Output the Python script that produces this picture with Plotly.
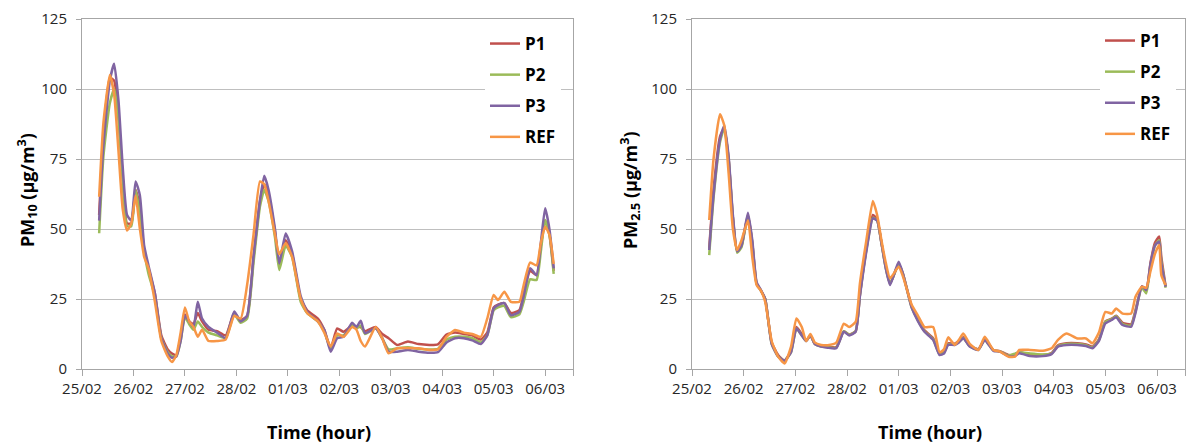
import plotly.graph_objects as go

# ---------------- data (hours since 25/02 00:00) ----------------
HOURS_PM10 = [8, 10, 13, 15, 17, 19, 21, 23, 25, 27, 29, 31, 34, 37, 40, 42, 44, 46, 48, 50,
              52, 54, 56, 59, 63, 67, 71, 74, 77, 80, 83, 85, 87, 90, 92, 95, 98, 102, 105, 110,
              113, 116, 119, 122, 126, 128, 130, 132, 137, 140, 143, 147, 152, 157, 162, 166, 170, 174, 178, 182,
              186, 189, 192, 194, 197, 200, 204, 206, 209, 212, 214, 216, 218, 220]

PM10_P1 = [55, 84, 104, 103, 90, 68, 52, 52, 64, 58, 42, 36, 27, 12, 7, 5.5, 5, 11, 19.5, 17,
           16, 20, 17, 14, 13.5, 12, 20, 17.5, 19, 40, 60, 66, 62, 49, 37, 46, 41, 25, 21, 18,
           14, 7.5, 14.5, 13.3, 15.5, 15, 15, 13.5, 15, 12.5, 11, 8.6, 9.8, 8.9, 8.6, 8.8, 12.3, 13, 12.5, 12,
           10.5, 13, 22, 23, 23.5, 20, 21, 27, 35, 33.5, 44, 53, 48, 35]
PM10_P2 = [48.5, 76, 95, 100, 90, 68, 51, 51, 64, 55, 42, 34, 26, 11, 6, 4.5, 4.5, 10, 18.5, 16,
           14, 17, 15, 13, 12, 11, 19.5, 16.5, 18, 38, 58, 64, 60, 47, 35.4, 44, 40, 24, 20, 17,
           13.5, 7, 12, 12, 15.5, 14.5, 15.5, 12.5, 14.5, 11, 7, 7.4, 7.8, 7.2, 7, 7.2, 10.5, 11.5, 11.5, 11,
           9.5, 12, 21, 22, 22.5, 18.5, 19.5, 24, 32, 31.8, 42, 53.2, 48, 34]
PM10_P3 = [53, 80, 103, 109, 96, 72, 55, 53, 67, 62, 44, 37, 27, 11, 5.5, 4, 4.5, 10, 19, 17,
           15, 24, 18, 15, 13, 11, 20.5, 17, 19, 40, 60, 69, 64, 50, 37.7, 48.4, 42, 26, 20.5, 17,
           14, 6.2, 11, 11.5, 16.5, 15, 17.2, 12.8, 14.5, 11, 6.2, 6.2, 6.8, 6.2, 5.8, 6, 9.5, 11, 11, 10.2,
           8.9, 12, 21.6, 22.8, 23.5, 19.2, 20.4, 26, 36, 33.5, 45, 57.4, 50, 35.9]
PM10_REF = [61.5, 88, 105, 98, 78, 57, 49.5, 52, 62, 50, 40, 36, 24, 10, 4.5, 2.5, 5, 13, 22, 17,
            15, 11.5, 14, 10, 10, 10.5, 19, 18, 30, 48, 67, 66, 60, 48, 41, 45, 40, 25, 20, 17,
            13, 8, 12.7, 11.5, 15, 14, 10, 8, 15, 11, 5.6, 7.4, 7.5, 7.4, 6.8, 7, 11.5, 13.9, 13, 12.5,
            11.5, 18, 26.4, 24.6, 27.6, 24, 24, 30, 38, 37, 45, 50.8, 48, 37.5]

HOURS_PM25 = [8, 10, 13, 15, 17, 19, 21, 23, 26, 28, 30, 32, 34, 37, 40, 43, 46, 48.5, 51, 53,
              55, 57, 60, 63, 67, 70.5, 73, 76, 78, 81, 84, 86, 88, 90, 92, 96, 98, 102, 105, 108,
              112, 115, 117, 119, 122, 124, 126, 129, 133, 136, 140, 143, 147, 150, 152, 157, 163, 167, 170, 174,
              179, 183, 186, 189, 192, 195, 197, 200, 204, 206, 209, 211, 213, 215, 217, 218, 220]

PM25_P1 = [43, 64, 83, 86, 75, 54, 42, 44, 55, 45, 30.5, 28, 25, 9.5, 5, 3, 6.5, 15, 12.5, 10,
           12, 9, 8.2, 8, 7.8, 13.5, 12.3, 13.5, 26.5, 43, 55, 53.5, 45, 36.5, 30.5, 37.5, 34, 22.5, 17.5, 13.8,
           11, 5.5, 6, 9.2, 9, 10, 11.3, 8.3, 7.1, 10.6, 6.8, 6.4, 5, 5.2, 6, 5.2, 5, 5.7, 8.5, 9.2,
           9.2, 8.8, 8, 10.6, 17, 18, 19, 16.5, 16, 21, 29.5, 28, 38, 45, 47.3, 40, 29.5]
PM25_P2 = [40.7, 61, 81, 86, 75, 54, 41.5, 43.5, 55, 45, 30.5, 28, 25, 9, 4.5, 3, 6, 14.5, 12, 10,
           12, 9, 8, 7.8, 7.6, 13.5, 12.2, 13.5, 26.5, 42.5, 54, 53, 45, 36, 30.5, 37.5, 34, 22, 17.3, 13.5,
           10.6, 5.2, 5.7, 8.8, 8.8, 9.7, 11.1, 8.1, 6.9, 10.4, 6.6, 6.3, 4.8, 5.5, 6, 5.5, 5.2, 5.5, 8.2, 8.9,
           8.9, 8.5, 7.7, 10.3, 16.8, 17.8, 18.8, 16, 15.5, 20.5, 29, 27, 37, 44, 46, 38.5, 29]
PM25_P3 = [42.5, 62, 82, 87, 76, 55, 42, 44, 55.8, 46, 31, 28.2, 25, 9, 4.5, 3, 6, 14.5, 12, 10,
           12, 9, 8, 7.6, 7.4, 13.3, 12, 13.3, 26, 42, 53.8, 53, 45, 36, 30, 38.3, 34, 22, 17, 13.3,
           10.4, 5, 5.5, 8.6, 8.6, 9.5, 11, 8, 6.8, 10.3, 6.5, 6.2, 4.6, 4.6, 5.6, 4.6, 4.6, 5.3, 8, 8.6,
           8.6, 8.2, 7.4, 10, 16.3, 17.5, 18.5, 15.7, 15.1, 20, 29.6, 28.2, 37.7, 44, 45.5, 37.7, 29.4]
PM25_REF = [53.2, 75, 91, 87, 70, 50, 42.5, 46, 53, 40, 30, 28, 24, 10, 4.4, 2, 8, 18, 15, 10,
            12.5, 9.5, 8.6, 8.5, 9.4, 16.2, 15, 16.8, 30.6, 46, 60, 55, 46, 38, 32.4, 36.5, 33, 23, 19, 15,
            15, 6, 7, 11.3, 8.6, 10.4, 12.7, 9, 6.8, 11.5, 6.8, 6.2, 4.4, 4.4, 6.8, 6.8, 6.5, 7.4, 10.4, 12.7,
            10.9, 10.9, 9.2, 13, 20.4, 19.8, 21.6, 19.8, 19.8, 25.8, 29.4, 29, 35, 41, 44.3, 33.5, 30]

SERIES = ["P1", "P2", "P3", "REF"]
COLORS = {"P1": "#C0504D", "P2": "#9BBB59", "P3": "#8064A2", "REF": "#F79646"}
DAY_TICKS = [0, 24, 48, 72, 96, 120, 144, 168, 192, 216]
DAY_LABELS = ["25/02", "26/02", "27/02", "28/02", "01/03", "02/03", "03/03", "04/03", "05/03", "06/03"]
X_END = 229
Y_TICKS = [0, 25, 50, 75, 100, 125]

# ---------------- figure ----------------
W, H = 1188, 446
fig = go.Figure()

panels = [
    ("x", "y", "legend", HOURS_PM10, {"P1": PM10_P1, "P2": PM10_P2, "P3": PM10_P3, "REF": PM10_REF}),
    ("x2", "y2", "legend2", HOURS_PM25, {"P1": PM25_P1, "P2": PM25_P2, "P3": PM25_P3, "REF": PM25_REF}),
]
for xa, ya, lg, hours, data in panels:
    for name in SERIES:
        fig.add_trace(go.Scatter(
            x=hours, y=data[name], mode="lines", name=name,
            line=dict(color=COLORS[name], width=2.5, shape="spline", smoothing=0.5),
            xaxis=xa, yaxis=ya, legend=lg, legendgroup=lg + name,
        ))

FONT = "Open Sans"
tickfont = dict(family=FONT, size=15, color="#262626")
grid = "#BFBFBF"
axline = "#A6A6A6"

def xaxis(domain, anchor):
    return dict(domain=domain, anchor=anchor, range=[0, X_END], tickmode="array",
                tickvals=DAY_TICKS, ticktext=DAY_LABELS, ticks="outside", ticklen=6,
                tickcolor=axline, showline=True, linecolor=axline, linewidth=1, mirror=True,
                showgrid=False, zeroline=False, tickfont=tickfont, automargin=False,
                minor=dict(tickmode="array", tickvals=[X_END], ticks="outside", ticklen=6,
                           tickcolor=axline, showgrid=False))

def yaxis(anchor):
    return dict(domain=[77 / H, 1 - 19 / H], anchor=anchor, range=[0, 125], tickmode="array",
                tickvals=Y_TICKS, ticks="outside", ticklen=5, tickcolor=axline,
                showline=True, linecolor=axline, linewidth=1, mirror=True,
                showgrid=True, gridcolor=grid, gridwidth=1, zeroline=False,
                tickfont=tickfont, ticklabelstandoff=6, automargin=False)

legend_common = dict(font=dict(family=FONT, size=17, color="#000000", weight="bold"),
                     bgcolor="white", borderwidth=0, tracegroupgap=6, itemwidth=30,
                     yanchor="top", xanchor="left")

title_font = dict(family=FONT, size=18, color="#000000")

def title(text, x, y, angle=0, yanchor="middle"):
    return dict(text=text, x=x / W, y=1 - y / H, xref="paper", yref="paper",
                xanchor="center", yanchor=yanchor, showarrow=False, borderpad=0,
                textangle=angle, font=title_font)

fig.update_layout(
    width=W, height=H, margin=dict(l=0, r=0, t=0, b=0, autoexpand=False),
    paper_bgcolor="white", plot_bgcolor="white",
    xaxis=xaxis([82 / W, 573 / W], "y"),
    yaxis=yaxis("x"),
    xaxis2=xaxis([692 / W, 1185 / W], "y2"),
    yaxis2=yaxis("x2"),
    legend=dict(x=485 / W, y=1 - 26 / H, **legend_common),
    legend2=dict(x=1100 / W, y=1 - 23 / H, **legend_common),
    annotations=[
        title("<b>PM<sub>10</sub> (µg/m<sup>3</sup>)</b>", 27, 190, -90),
        title("<b>PM<sub>2.5</sub> (µg/m<sup>3</sup>)</b>", 630, 190, -90),
        title("<b>Time (hour)</b>", 319, 445, yanchor="bottom"),
        title("<b>Time (hour)</b>", 930, 445, yanchor="bottom"),
    ],
)

fig.write_html("out.html")
